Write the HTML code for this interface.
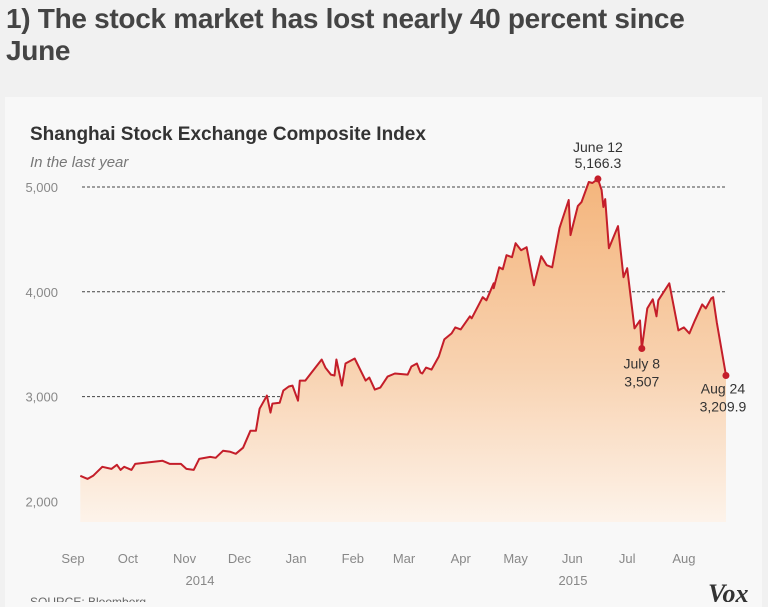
<!DOCTYPE html>
<html><head><meta charset="utf-8"><style>
body{margin:0;width:768px;height:602px;overflow:hidden;background:#f1f1f1;font-family:"Liberation Sans",sans-serif;}
#hl{position:absolute;left:6px;top:3px;width:712px;font-size:28px;font-weight:bold;color:#444;line-height:32px;letter-spacing:-0.3px}
#card{position:absolute;left:5px;top:97px;width:757px;height:510px;background:#f8f8f8}
svg{position:absolute;left:0;top:0}
</style></head><body>
<div id="hl">1) The stock market has lost nearly 40 percent since June</div>
<div id="card"></div>
<svg id="chart" width="768" height="602">
<defs><linearGradient id="g" x1="0" y1="0" x2="0" y2="1">
<stop offset="0" stop-color="#f4b57c"/><stop offset="0.55" stop-color="#f8d2b0"/><stop offset="1" stop-color="#fdf3ea"/></linearGradient></defs>
<text x="30" y="140" font-size="19" font-weight="bold" fill="#333">Shanghai Stock Exchange Composite Index</text>
<text x="30" y="167" font-size="15" font-style="italic" fill="#777">In the last year</text>
<g id="grid"></g><g id="area"></g><g id="marks"></g><g id="xax"></g>
<text x="30" y="606" font-size="12" fill="#666">SOURCE: Bloomberg</text>
<text x="708" y="602" font-size="26" font-weight="bold" font-style="italic" font-family="Liberation Serif" fill="#333">Vox</text>
</svg>
<script>
const days=[4,8,11,16,21,24,26,28,32,34,49,53,59,62,66,69,75,78,82,86,89,93,97,100,102,106,108,109,113,115,118,120,123,124,127,130,136,138,141,143,144,147,149,154,160,162,165,168,172,176,183,185,188,190,191,193,196,200,203,207,209,212,217,218,224,226,230,230,233,235,237,240,242,245,248,252,256,259,262,264,266,271,272,276,278,282,284,287,289,290,291,293,298,301,303,307,310,311,314,317,319,320,326,331,334,337,340,344,346,349,350,352,357];
const values=[2244,2215,2244,2330,2310,2349,2301,2330,2301,2358,2387,2358,2358,2310,2301,2406,2425,2416,2483,2473,2454,2512,2674,2674,2885,3010,2847,2933,2942,3057,3096,3105,2961,3153,3153,3220,3354,3277,3210,3201,3354,3105,3316,3364,3153,3182,3067,3086,3191,3220,3210,3287,3316,3230,3220,3277,3258,3383,3546,3603,3660,3641,3766,3747,3948,3919,4081,4034,4234,4215,4349,4330,4464,4397,4426,4062,4340,4254,4234,4426,4608,4876,4541,4818,4856,5048,5038,5077,4971,4809,4885,4416,4627,4139,4225,3651,3727,3459,3842,3928,3766,3919,4081,3632,3660,3603,3727,3880,3842,3938,3948,3708,3201];
const yTicks=[2000,3000,4000,5000];
const yTickLabels=["2,000","3,000","4,000","5,000"];
const monthDays=[0,30,61,91,122,153,181,212,242,273,303,334];
const monthLabels=["Sep","Oct","Nov","Dec","Jan","Feb","Mar","Apr","May","Jun","Jul","Aug"];
const annDays=[287,311,357];
const annValues=[5077,3459,3201];
const annLabels=[["June 12","5,166.3"],["July 8","3,507"],["Aug 24","3,209.9"]];
const X=d=>73+d*1.829;
const Y=v=>187+(5000-v)*0.1048;
const NS="http://www.w3.org/2000/svg";
function mk(t,a,p){const e=document.createElementNS(NS,t);for(const k in a)e.setAttribute(k,a[k]);p.appendChild(e);return e;}
const grid=document.getElementById('grid'),area=document.getElementById('area'),marks=document.getElementById('marks'),xax=document.getElementById('xax');
yTicks.forEach((v,i)=>{
 const l=mk('line',{x1:82,x2:727,y1:Y(v),y2:Y(v),stroke:'#444','stroke-width':1,'stroke-dasharray':'3,2'},grid);
 
 
 const t=mk('text',{x:58,y:Y(v)+5,'font-size':13,fill:'#888','text-anchor':'end'},grid);
 t.textContent=yTickLabels[i];
 
 
});
let pts=days.map((d,i)=>X(d).toFixed(1)+','+Y(values[i]).toFixed(1));
const base=522;
const a=mk('path',{d:'M'+X(days[0])+','+base+' L'+pts.join(' L')+' L'+X(days[days.length-1])+','+base+'Z',fill:'url(#g)'},area);


const ln=mk('polyline',{points:pts.join(' '),fill:'none',stroke:'#c41e2a','stroke-width':2,'stroke-linejoin':'round'},marks);


const offs=[[0,-27,-11],[0,10,28],[0,10,28]];
annDays.forEach((d,i)=>{
 const c=mk('circle',{cx:X(d),cy:Y(annValues[i]),r:3.5,fill:'#c41e2a'},marks);
 
 
 const dx=i==2?-3:0;
 [0,1].forEach(j=>{
  const t=mk('text',{x:X(d)+dx,y:Y(annValues[i])+offs[i][j+1]+(i==2?-2:0)+(i>0?10:0),'font-size':14,fill:'#333','text-anchor':'middle'},marks);
  t.textContent=annLabels[i][j];
  
  
 });
});
monthDays.forEach((d,i)=>{
 const t=mk('text',{x:X(d),y:563,'font-size':13,fill:'#888','text-anchor':'middle'},xax);
 t.textContent=monthLabels[i];
 
 
});
[["2014",200],["2015",573]].forEach(y=>{
 const t=mk('text',{x:y[1],y:585,'font-size':13,fill:'#888','text-anchor':'middle'},xax);
 t.textContent=y[0];
 
 
});
</script>
</body></html>
